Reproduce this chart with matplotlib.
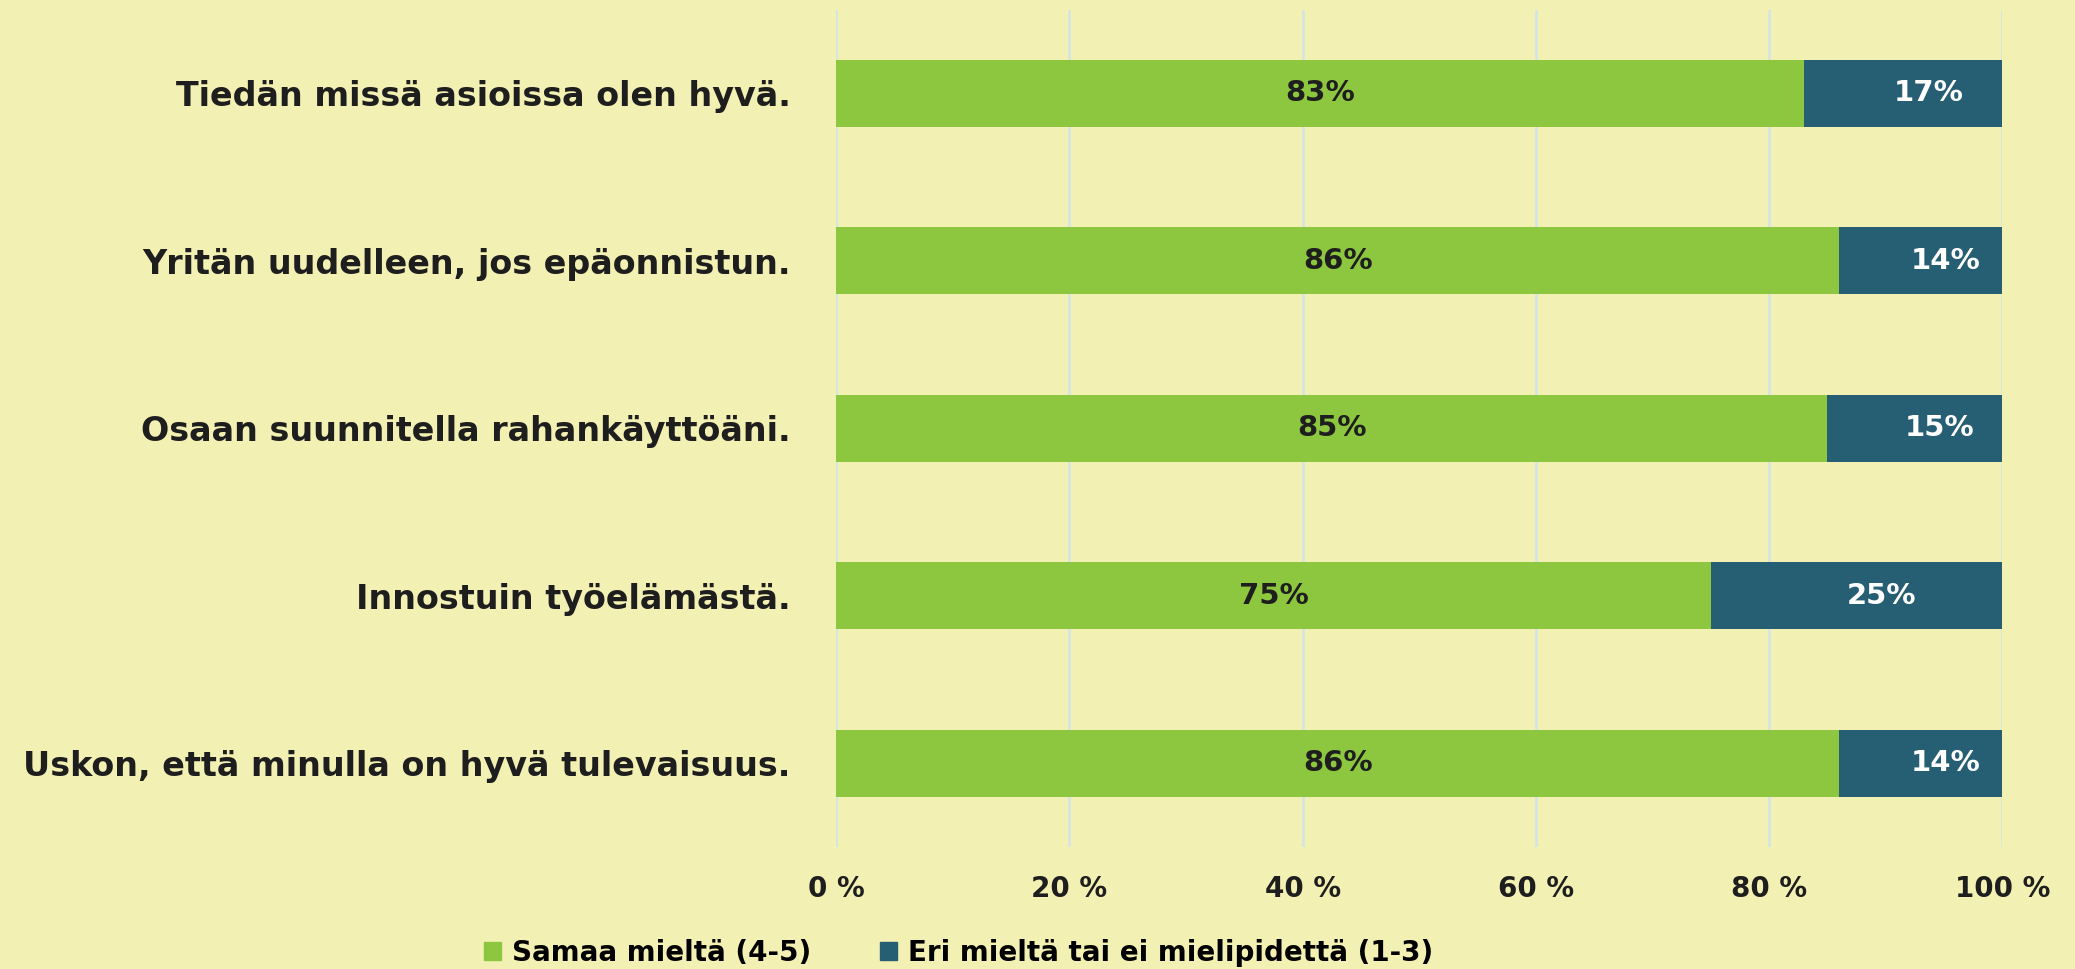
import matplotlib
matplotlib.use("Agg")
import matplotlib.pyplot as plt
from matplotlib.patches import Patch

categories = [
    "Tiedän missä asioissa olen hyvä.",
    "Yritän uudelleen, jos epäonnistun.",
    "Osaan suunnitella rahankäyttöäni.",
    "Innostuin työelämästä.",
    "Uskon, että minulla on hyvä tulevaisuus.",
]
agree = [83, 86, 85, 75, 86]
disagree = [17, 14, 15, 25, 14]
series_names = ["Samaa mieltä (4-5)", "Eri mieltä tai ei mielipidettä (1-3)"]
xticks = [0, 20, 40, 60, 80, 100]
xtick_labels = ["0 %", "20 %", "40 %", "60 %", "80 %", "100 %"]

BG = "#F3F0B3"
GREEN = "#8DC63F"
BLUE = "#265E74"
TXT = "#1E1E1E"
GRID = "#D3E4E6"

plt.rcParams["font.family"] = ["DejaVu Sans"]
plt.rcParams["font.weight"] = "bold"

fig = plt.figure(figsize=(20.75, 9.69), dpi=100, facecolor=BG)
ax = fig.add_axes([0.403, 0.126, 0.562, 0.864])
ax.set_facecolor(BG)

y = list(range(len(categories)))
ax.barh(y, agree, height=0.4, color=GREEN, zorder=3)
ax.barh(y, disagree, left=agree, height=0.4, color=BLUE, zorder=3)

for i in y:
    ax.text(agree[i] / 2, i, f"{agree[i]}%", ha="center", va="center",
            fontsize=21, fontweight="bold", color=TXT, zorder=4)
    ax.annotate(f"{disagree[i]}%", (agree[i] + disagree[i] / 2, i),
                xytext=(18, 0), textcoords="offset points",
                ha="center", va="center", fontsize=21, fontweight="bold",
                color="white", zorder=4)

ax.set_xlim(0, 100)
ax.set_ylim(4.5, -0.5)
ax.set_yticks(y)
ax.set_yticklabels(categories, fontsize=24, fontweight="bold", color=TXT)
ax.set_xticks(xticks)
ax.set_xticklabels(xtick_labels, fontsize=20, fontweight="bold", color=TXT)
ax.tick_params(axis="y", length=0, pad=33)
ax.tick_params(axis="x", length=0, pad=20)
ax.grid(axis="x", color=GRID, linewidth=1.8, zorder=0)
ax.set_axisbelow(True)
for s in ax.spines.values():
    s.set_visible(False)

handles = [Patch(color=GREEN), Patch(color=BLUE)]
fig.legend(handles, series_names, loc="center", bbox_to_anchor=(0.462, 0.017),
           ncol=2, frameon=False, handlelength=0.6, handleheight=0.6,
           handletextpad=0.4, columnspacing=2.5, prop={"weight": "bold", "size": 20})

fig.savefig("out.png", dpi=100, facecolor=BG)
